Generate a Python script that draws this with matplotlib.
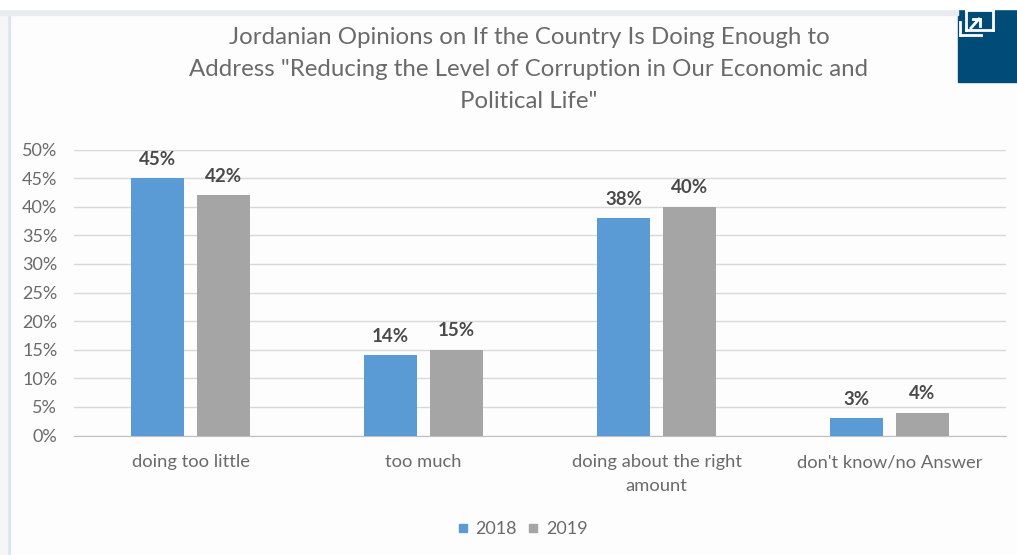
import matplotlib
matplotlib.use("Agg")
import matplotlib.pyplot as plt
from matplotlib.patches import Rectangle
from matplotlib.lines import Line2D

categories = ["doing too little", "too much", "doing about the right\namount", "don't know/no Answer"]
values_2018 = [45, 14, 38, 3]
values_2019 = [42, 15, 40, 4]
yticks = list(range(0, 51, 5))
title = 'Jordanian Opinions on If the Country Is Doing Enough to\nAddress "Reducing the Level of Corruption in Our Economic and\nPolitical Life"'

W, H = 1017, 555
plt.rcParams['font.family'] = ['Lato', 'DejaVu Sans']
fig = plt.figure(figsize=(W/100, H/100), dpi=100, facecolor='#FDFDFD')
ax = fig.add_axes([74/W, 1-435.5/H, (1006-74)/W, (435.5-149.5)/H])
ax.patch.set_alpha(0)
grey = '#6A6A6A'
xs = range(4)
w = 0.225
gap = 0.029
ax.bar([x-w/2-gap for x in xs], values_2018, w, color='#5B9BD5', zorder=3)
ax.bar([x+w/2+gap for x in xs], values_2019, w, color='#A5A5A5', zorder=3)
for x, a, b in zip(xs, values_2018, values_2019):
    ax.text(x-w/2-gap, a+1.8, f"{a}%", ha='center', va='bottom', fontsize=13.5, fontweight='bold', color='#4A4A4A')
    ax.text(x+w/2+gap, b+1.8, f"{b}%", ha='center', va='bottom', fontsize=13.5, fontweight='bold', color='#4A4A4A')
ax.set_xlim(-0.5, 3.5)
ax.set_ylim(0, 50)
ax.set_yticks(yticks)
ax.set_yticklabels([f"{t}%" for t in yticks], fontsize=13, color=grey)
ax.set_xticks(list(xs))
ax.set_xticklabels(categories, fontsize=13.2, color=grey, linespacing=1.58)
ax.tick_params(length=0)
ax.tick_params(axis='x', pad=13.5)
ax.tick_params(axis='y', pad=12)
ax.grid(axis='y', color='#D9D9D9', lw=1, zorder=0)
for s in ['top', 'right', 'left']:
    ax.spines[s].set_visible(False)
ax.spines['bottom'].set_color('#BFBFBF')
fig.text(529/W, 1-69.5/H, title, ha='center', va='center', fontsize=17.3, color=grey, linespacing=1.63)
h = [Line2D([], [], marker='s', ls='', color='#5B9BD5', ms=5.5), Line2D([], [], marker='s', ls='', color='#A5A5A5', ms=5.5)]
fig.legend(h, ['2018', '2019'], loc='center', bbox_to_anchor=(521/W, 1-529/H), ncol=2, frameon=False,
           fontsize=13, labelcolor=grey, handlelength=0.9, handletextpad=0.25, columnspacing=0.45)
T = fig.transFigure
fig.add_artist(Rectangle((958/W, 1-82/H), 59/W, 73/H, transform=T, color='#004B78'))
fig.add_artist(Rectangle((7/W, 0), 3/W, 1-10/H, transform=T, color='#DCE6F2'))
fig.add_artist(Rectangle((0, 0), 7/W, 1, transform=T, color='#F6F6F6'))
fig.add_artist(Rectangle((0, 1-15/H), 958/W, 6/H, transform=T, color='#E9EBED'))
fig.add_artist(Rectangle((0, 1-9/H), 1, 9/H, transform=T, color='white'))
def seg(xa, ya, xb, yb):
    fig.add_artist(Line2D([xa/W, xb/W], [1-ya/H, 1-yb/H], transform=T, color='white', lw=2))
seg(966, 10, 993, 10); seg(993, 10, 993, 30); seg(993, 30, 966, 30); seg(966, 30, 966, 10)
seg(960, 22, 960, 35); seg(960, 35, 981, 35)
seg(971, 28, 979, 19); seg(973, 19, 980, 19); seg(980, 19, 980, 26)
fig.savefig("out.png", dpi=100)
